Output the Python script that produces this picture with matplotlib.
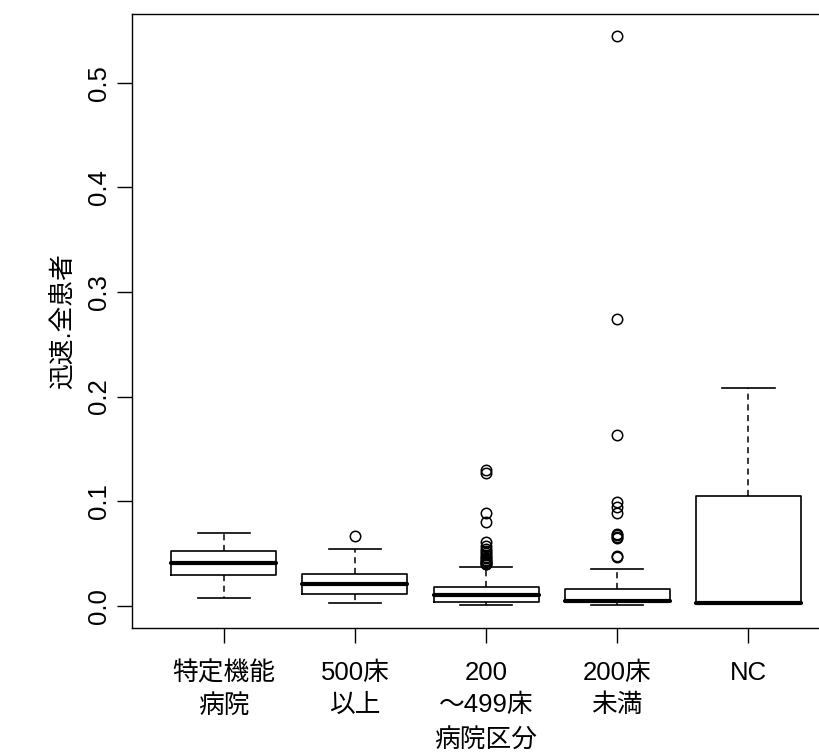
import matplotlib
matplotlib.use("Agg")
from matplotlib import pyplot as plt
from matplotlib.ticker import FormatStrFormatter

# hospital categories (x axis)
groups = ["特定機能\n病院", "500床\n以上", "200\n～499床", "200床\n未満", "NC"]

# box statistics
whisker_low = [0.0070, 0.0022, 0.0010, 0.0008, 0.0030]
q1 = [0.0299, 0.0115, 0.0038, 0.0035, 0.0030]
median = [0.0407, 0.0210, 0.0105, 0.0050, 0.0030]
q3 = [0.0528, 0.0300, 0.0178, 0.0162, 0.1050]
whisker_high = [0.0700, 0.0544, 0.0375, 0.0356, 0.2077]

# outliers per group
outliers_tokutei = []
outliers_500 = [0.0668]
outliers_200_499 = [0.1298, 0.1266, 0.0884, 0.0805, 0.0614, 0.0575, 0.0545, 0.0520,
                    0.0500, 0.0485, 0.0470, 0.0455, 0.0440, 0.0430, 0.0420, 0.0410,
                    0.0400, 0.0395]
outliers_under200 = [0.5442, 0.2745, 0.1632, 0.0990, 0.0940, 0.0890, 0.0690, 0.0675,
                     0.0660, 0.0650, 0.0478, 0.0462]
outliers_nc = []

y_ticks = [0.0, 0.1, 0.2, 0.3, 0.4, 0.5]
x_title = "病院区分"
y_title = "迅速.全患者"


def main():
	plt.rcParams["font.family"] = ["Liberation Sans", "Noto Sans CJK JP"]
	plt.rcParams["font.size"] = 18.5

	all_outliers = [outliers_tokutei, outliers_500, outliers_200_499, outliers_under200, outliers_nc]
	stats = []
	for i, label in enumerate(groups):
		stats.append(dict(label=label, whislo=whisker_low[i], q1=q1[i], med=median[i],
						  q3=q3[i], whishi=whisker_high[i], fliers=all_outliers[i]))

	fig = plt.figure(figsize=(8.2, 7.52), dpi=100)
	ax = fig.add_axes([132 / 820, 1 - 627.7 / 752, 708.2 / 820, (627.7 - 13.7) / 752])

	ax.bxp(stats, positions=range(1, len(groups) + 1), widths=0.8, capwidths=0.4,
		   boxprops=dict(color="black", linewidth=1.2),
		   medianprops=dict(color="black", linewidth=3.0, solid_capstyle="round"),
		   whiskerprops=dict(color="black", linewidth=1.1, linestyle=(0, (4, 3))),
		   capprops=dict(color="black", linewidth=1.2),
		   flierprops=dict(marker="o", markerfacecolor="none", markeredgecolor="black",
						   markersize=7.5, markeredgewidth=1.1))

	# R style 4% expansion of the data range
	values = whisker_low + whisker_high + [v for grp in all_outliers for v in grp]
	lo, hi = min(values), max(values)
	pad = 0.04 * (hi - lo)
	ax.set_ylim(lo - pad, hi + pad)
	ax.set_xlim(0.3, len(groups) + 0.7)

	ax.set_yticks(y_ticks)
	ax.yaxis.set_major_formatter(FormatStrFormatter("%.1f"))
	ax.tick_params(axis="y", labelrotation=90, length=10.8, width=1.0, pad=4)
	ax.tick_params(axis="x", length=10.8, width=1.0, pad=13)
	for lbl in ax.get_yticklabels():
		lbl.set_verticalalignment("center")
	for lbl in ax.get_xticklabels():
		lbl.set_linespacing(1.45)

	for spine in ax.spines.values():
		spine.set_linewidth(1.0)
		spine.set_color("black")

	ax.set_xlabel(x_title, labelpad=8)
	ax.set_ylabel(y_title, labelpad=9)

	fig.savefig("out.png", dpi=100)
	plt.close(fig)


if __name__ == "__main__":
	main()
